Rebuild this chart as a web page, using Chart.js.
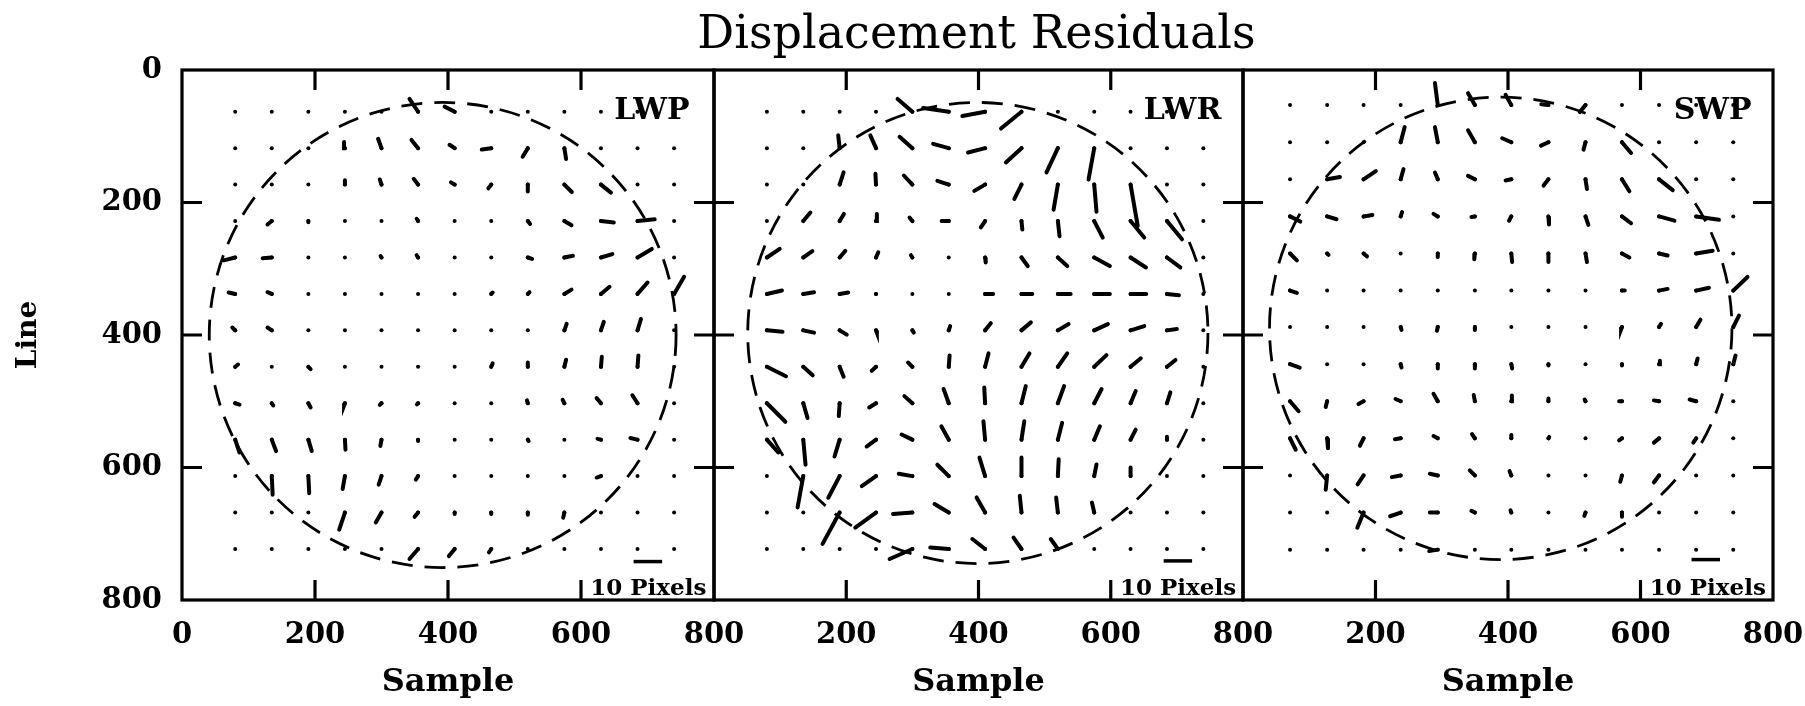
<!DOCTYPE html>
<html lang="en">
<head>
<meta charset="UTF-8" />
<title>Displacement Residuals</title>
<script src="https://cdn.jsdelivr.net/npm/chart.js"></script>
<style>
  body { margin: 0; background: #fff; }
  #wrap { position: relative; width: 1805px; height: 706px; overflow: hidden; background: #fff; }
  canvas { position: absolute; top: 0; }
</style>
</head>
<body>
<div id="wrap">
  <canvas id="lwp" width="760" height="706" style="left:0px"></canvas>
  <canvas id="lwr" width="620" height="706" style="left:670px"></canvas>
  <canvas id="swp" width="605" height="706" style="left:1200px"></canvas>
</div>
<script>
// grid of measured points (Sample, Line) for the long and short wavelength cameras
const lwSamples = [80, 135, 190, 245, 300, 355, 410, 465, 520, 575, 630, 685, 740];
const lwLines = [63, 118, 173, 228, 283, 338, 393, 448, 503, 558, 613, 668, 723];
const swSamples = [71, 127, 182, 238, 294, 350, 405, 461, 517, 572, 628, 684, 740];
const swLines = [53, 109, 165, 221, 277, 333, 388, 444, 500, 556, 612, 668, 724];

// residual vectors [dSample, dLine] in pixels, one row per grid line
const lwpVectors = [
  [[0,0],[0,0],[0,0],[0,0],[0,0],[-3,-4.5],[-3.5,-1.8],[0,0],[0,0],[0,0],[0,0],[0,0],[0,0]],
  [[0,0],[0,0],[0,0],[-0.3,-2.2],[-1.2,-3.3],[-2.3,-2.9],[-1.8,-1.2],[-3.3,0.5],[-1.8,3],[0.6,3.8],[0,0],[0,0],[0,0]],
  [[0,0],[0,0],[0,0],[0,-1.5],[-0.6,-1.8],[-1.5,-2],[-1.3,-0.8],[-1,1.3],[0,2.4],[2.6,2.6],[3.5,2.8],[0,0],[0,0]],
  [[0,0],[-1.5,1.2],[0,0.4],[0,0],[0,0],[-0.5,-0.8],[0,0],[0,0],[0.8,1],[2.5,1.5],[4.5,0.5],[6,-0.6],[0,0]],
  [[-4,1],[-3.2,0.3],[0,0],[0,0],[-0.3,-0.5],[-0.5,-0.8],[0,0],[0,0],[1.5,0.5],[3,-0.6],[4,-1.2],[5,-3],[0,0]],
  [[-2.3,-0.5],[-1.5,-0.6],[0,0],[0,0],[0,0],[0,0],[0,0],[0.5,-0.5],[0.6,-0.6],[2.5,-1.5],[3,-2.5],[3.5,-4],[3.5,-6]],
  [[-1,-1],[-1.5,-1],[0,0],[0,0],[0,0],[0,0],[0,0],[0,0],[0,0],[0.8,-2.3],[1,-3],[1.2,-4],[0,0]],
  [[1,-0.8],[0,0],[0.8,0.8],[0,0],[0,0],[0,0],[0,0],[0.5,-1.2],[0,-1.5],[0.6,-2.5],[0.3,-3.5],[0.3,-4],[0,0]],
  [[1.5,0.5],[0.5,0.8],[0.8,1.5],[-0.3,0.8],[-0.6,0.6],[-0.4,0.4],[0,0],[0,0],[-0.3,-1],[-0.6,-1.2],[-1.5,-1.8],[-1.8,-2.8],[0,0]],
  [[1.5,4.5],[1.5,4],[1.2,4],[0.2,3.5],[-0.4,2.2],[0,0.5],[0,0],[0,0],[0.3,0.5],[0,0],[-1.2,-0.3],[-2.5,-0.6],[0,0]],
  [[0,0],[0.3,6.5],[0.3,6],[-0.8,4.5],[-1,3],[-0.8,1.2],[0,0],[0,0],[0,0],[0,0],[-1.5,0.5],[0,0],[0,0]],
  [[0,0],[0,0],[0,0],[-2,6],[-2,3.5],[-1.2,1.5],[0,0.5],[0,0.5],[0,0.8],[-0.4,1.8],[0,0],[0,0],[0,0]],
  [[0,0],[0,0],[0,0],[0,0],[0,0],[-3,3.5],[-2,2.5],[-0.8,1.2],[0,0],[0,0],[0,0],[0,0],[0,0]]
];

const lwrVectors = [
  [[0,0],[0,0],[0,0],[0,0],[-5.2,-4.5],[-9,-1.3],[-8,1.5],[-7.2,5.9],[0,0],[0,0],[0,0],[0,0],[0,0]],
  [[0,0],[0,0],[-0.5,-4.5],[-2,-4.5],[-4.5,-4],[-5.5,-1.5],[-6,1.5],[-5.5,5],[-4,8.5],[-2,11],[0,0],[0,0],[0,0]],
  [[0,0],[0,0],[1.4,-4.3],[-0.2,-3.8],[-3,-3.2],[-4,-1.3],[-3.8,2.2],[-2.5,5],[-1.5,8.8],[0.8,9.5],[2.5,14.5],[0,0],[0,0]],
  [[0,0],[2.5,-3],[1.5,-2.5],[0.3,-2.5],[-1,-1.2],[-2.5,0],[-1.5,2.2],[0.3,3],[0.6,5.3],[3,5.8],[4.8,5.8],[5.3,6.4],[0,0]],
  [[4.5,-3],[3.2,-2.2],[2,-2.3],[0.8,-1.8],[-0.5,-0.8],[0,0],[0.2,1.8],[2.2,3],[3.3,3],[5.5,3],[5.4,3.5],[4.7,3.5],[0,0]],
  [[5.3,-1.2],[3.8,-0.6],[3,-0.5],[0.3,0],[0,0],[0,0],[2.8,0],[3.8,0],[4.5,0],[5.5,0],[5.5,0],[4.2,0.5],[0,0]],
  [[5.5,0.5],[3.8,0.8],[2.5,1.5],[0.3,0.8],[0.5,0.8],[0.5,-1.5],[2,-2.5],[3.3,-2.8],[3.8,-2.2],[4.8,-2.2],[4.8,-1.5],[3.5,-0.5],[0,0]],
  [[6.7,3.3],[3.3,3],[1.4,3.5],[-1.5,1.4],[-1.5,-1.5],[0.3,-4],[1.2,-4.7],[2.8,-4.7],[3.3,-4.7],[4.3,-4.1],[3.6,-3],[3,-2.4],[0,0]],
  [[6.5,6.5],[1.5,5.2],[-0.3,4.5],[-2.4,1.5],[-2.8,-2.5],[-1.8,-5],[-0.3,-5.5],[1.5,-6],[2.2,-6],[2.6,-5],[1.8,-4.3],[1.2,-3.8],[0,0]],
  [[4,4.5],[0.8,8.8],[-1.8,5.9],[-3.3,2.4],[-3.8,-1.8],[-2.6,-4.7],[-0.6,-6.5],[1,-6.5],[1.5,-5.9],[2,-4.7],[1.8,-3.5],[0,-1],[0,0]],
  [[0,0],[-2,11],[-4,7.6],[-5,3.5],[-4.8,-0.8],[-4,-4],[-2,-6.5],[0,-6.5],[0.3,-5.9],[0.8,-4.1],[0,-3],[0,0],[0,0]],
  [[0,0],[0,0],[-6,11],[-7.3,5.3],[-6.8,0.5],[-5,-3],[-3,-5.3],[-0.6,-5.9],[-0.6,-5.3],[-0.8,-3.5],[0,0],[0,0],[0,0]],
  [[0,0],[0,0],[0,0],[0,0],[-8,3.5],[-6.5,-0.5],[-4.5,-3.5],[-2.8,-4],[-2.5,-3.5],[0,0],[0,0],[0,0],[0,0]]
];

const swpVectors = [
  [[0,0],[0,0],[0,0],[0,0],[-1,-7.8],[-2.4,-4.2],[-2,-3.6],[-2.5,-0.3],[-2,2.4],[0,0],[0,0],[0,0],[0,0]],
  [[0,0],[0,0],[0,0],[1.4,-5.3],[-1,-5.3],[-2.4,-4.2],[-3.2,-1.4],[-2.6,1.2],[-0.7,2.6],[3.2,3.8],[0,0],[0,0],[0,0]],
  [[0,0],[4.5,-0.8],[4.3,-2.9],[1,-3.6],[-1,-2.4],[-2.4,-1.2],[-2,0.4],[-1.7,2.2],[0.5,3.4],[2.6,4.2],[4.8,3.8],[0,0],[0,0]],
  [[3.6,1.8],[3.3,1],[3.1,-0.5],[0.5,-1.5],[-1.5,-0.9],[-1.2,0.2],[-0.8,1.5],[0.2,2.8],[1,3],[3.2,2.4],[5.4,1.5],[8,1.2],[0,0]],
  [[2.4,2.4],[0.5,0.5],[1.2,1],[0,0],[0,1.2],[-0.2,2],[0.3,3],[0,3],[0.5,3],[2.6,1.4],[3,0.7],[5.8,-1],[0,0]],
  [[2.4,0.8],[0,0],[0,0],[0,0],[0,0],[0,0],[0,0],[0,0],[0,0],[1,0],[3,-0.6],[4.5,-1],[5,-4.8]],
  [[0,0],[0,0],[0,0],[0.3,1],[-0.3,1.3],[0,1],[0,0],[0,0],[0,0],[-0.3,0.8],[0.7,-1.1],[1.5,-2.6],[2,-4]],
  [[3.4,1.2],[0,0],[0,0],[0.3,1.2],[0,1.5],[0,1.5],[0.3,1.5],[0,0.5],[0,0],[0,0.5],[0.3,-1.2],[0.5,-2],[0.8,-3]],
  [[3,3.5],[-0.5,2],[-1.8,1],[-1.8,-0.8],[-1.5,-2.6],[-0.4,-2.2],[0.2,-2],[0,-1],[-0.3,-0.6],[-1,0],[-1.8,-0.3],[-2.3,-0.6],[0,0]],
  [[2,4],[0.3,3.5],[-1.3,2.6],[-2,0.3],[-1.5,-0.8],[-1,-1.5],[0,-1.2],[0.3,-0.5],[0,0],[-1,0.7],[-1.8,1.5],[-1,1.5],[0,0]],
  [[0,0],[-0.5,5],[-2.1,3.1],[-3.1,0.6],[-2.8,-0.6],[-1.8,-1.8],[-0.6,-1.5],[0,0],[0,0],[-0.6,2.2],[-1.8,2.4],[0,0],[0,0]],
  [[0,0],[0,0],[-2.2,5.3],[-3.7,1.3],[-2.8,0],[-1.2,-0.6],[-0.3,-0.8],[0,0],[-0.4,1.2],[0,1.5],[0,0],[0,0],[0,0]],
  [[0,0],[0,0],[0,0],[0,0],[-3,0.5],[0,0],[0,0],[0,0],[0,0],[0,0],[0,0],[0,0],[0,0]]
];

// camera field of view: [centre sample, centre line, radius]
const lwpCircle = [392, 400, 351];
const lwrCircle = [399, 397, 348];
const swpCircle = [389, 390, 349];

// 10 pixel reference bar: [start sample, line]
const lwpBar = [679, 742];
const lwrBar = [680, 741];
const swpBar = [677, 739];

const axisTicks = [0, 200, 400, 600, 800];
const PIX = 4.3; // plot units per pixel of residual
const SERIF = "'DejaVu Serif', serif";

function vectorData(samples, lines, vecs) {
  const pts = [];
  vecs.forEach((row, j) => {
    row.forEach(([dx, dy], i) => {
      if (dx === 0 && dy === 0) return;
      pts.push({x: samples[i], y: lines[j]});
      pts.push({x: samples[i] + dx * PIX, y: lines[j] + dy * PIX});
      pts.push({x: samples[i], y: null});
    });
  });
  return pts;
}

function gridData(samples, lines) {
  const pts = [];
  lines.forEach(ln => samples.forEach(s => pts.push({x: s, y: ln})));
  return pts;
}

const framePlugin = {
  id: 'frame',
  afterDatasetsDraw(chart, args, opts) {
    const {ctx, chartArea: a, scales: {x, y}} = chart;
    ctx.save();
    ctx.strokeStyle = '#000';

    // dashed field-of-view circle
    const c = opts.circle;
    const cx = x.getPixelForValue(c[0]), cy = y.getPixelForValue(c[1]);
    const rx = Math.abs(x.getPixelForValue(c[0] + c[2]) - cx);
    const ry = Math.abs(y.getPixelForValue(c[1] + c[2]) - cy);
    ctx.lineWidth = 2.8;
    ctx.setLineDash([21, 12]);
    ctx.beginPath();
    ctx.ellipse(cx, cy, rx, ry, 0, 0, Math.PI * 2);
    ctx.stroke();
    ctx.setLineDash([]);

    // frame and inward ticks
    ctx.lineWidth = 3.2;
    ctx.strokeRect(a.left, a.top, a.right - a.left, a.bottom - a.top);
    ctx.beginPath();
    axisTicks.slice(1, 4).forEach(v => {
      const px = x.getPixelForValue(v), py = y.getPixelForValue(v);
      ctx.moveTo(px, a.top); ctx.lineTo(px, a.top + 20);
      ctx.moveTo(px, a.bottom); ctx.lineTo(px, a.bottom - 20);
      ctx.moveTo(a.left, py); ctx.lineTo(a.left + 20, py);
      ctx.moveTo(a.right, py); ctx.lineTo(a.right - 20, py);
    });
    ctx.stroke();

    // labels
    ctx.fillStyle = '#000';
    ctx.textAlign = 'left';
    ctx.textBaseline = 'alphabetic';
    ctx.font = 'bold 30px ' + SERIF;
    ctx.fillText(opts.name, x.getPixelForValue(650), y.getPixelForValue(74));
    ctx.font = 'bold 23px ' + SERIF;
    ctx.fillText('10 Pixels', x.getPixelForValue(614), y.getPixelForValue(793));

    // figure title, centred over the middle panel
    if (opts.title) {
      ctx.font = '46px ' + SERIF;
      ctx.textAlign = 'center';
      ctx.textBaseline = 'middle';
      ctx.fillText(opts.title, (a.left + a.right) / 2 - 2, 36);
    }
    ctx.restore();
  }
};

function makePanel(id, p) {
  return new Chart(document.getElementById(id), {
    type: 'scatter',
    data: {
      datasets: [
        {
          data: gridData(p.samples, p.lines),
          pointRadius: 2,
          pointBorderWidth: 0,
          pointBackgroundColor: '#000'
        },
        {
          data: vectorData(p.samples, p.lines, p.vectors),
          showLine: true,
          spanGaps: false,
          borderColor: '#000',
          borderWidth: 4,
          borderCapStyle: 'round',
          pointRadius: 0
        },
        {
          data: [{x: p.bar[0], y: p.bar[1]}, {x: p.bar[0] + 10 * PIX, y: p.bar[1]}],
          showLine: true,
          borderColor: '#000',
          borderWidth: 3.5,
          pointRadius: 0
        }
      ]
    },
    options: {
      responsive: false,
      animation: false,
      events: [],
      layout: {padding: p.padding},
      plugins: {
        legend: {display: false},
        tooltip: {enabled: false},
        frame: {circle: p.circle, name: p.name, title: p.title}
      },
      scales: {
        x: {
          type: 'linear', min: 0, max: 800,
          grid: {display: false},
          border: {display: false},
          afterBuildTicks: s => { s.ticks = axisTicks.map(v => ({value: v})); },
          ticks: {
            autoSkip: false, maxRotation: 0, padding: 10, color: '#000',
            font: {family: SERIF, size: 29, weight: 'bold'},
            callback: v => (p.hideZero && v === 0) ? '' : v
          },
          title: {
            display: true, text: 'Sample', color: '#000',
            font: {family: SERIF, size: 32, weight: 'bold'},
            padding: {top: 0, bottom: 4}
          },
          afterFit: s => { s.height = 106; s.paddingLeft = 0; s.paddingRight = 0; }
        },
        y: {
          type: 'linear', min: 0, max: 800, reverse: true,
          display: p.showY,
          grid: {display: false},
          border: {display: false},
          afterBuildTicks: s => { s.ticks = axisTicks.map(v => ({value: v})); },
          ticks: {
            padding: 12, color: '#000',
            font: {family: SERIF, size: 29, weight: 'bold'}
          },
          title: {
            display: true, text: 'Line', color: '#000',
            font: {family: SERIF, size: 28, weight: 'bold'},
            padding: {top: 12, bottom: 0}
          },
          afterFit: s => {
            if (p.showY) { s.width = 182; s.paddingTop = 0; s.paddingBottom = 0; }
          }
        }
      }
    },
    plugins: [framePlugin]
  });
}

makePanel('lwp', {
  samples: lwSamples, lines: lwLines, vectors: lwpVectors,
  circle: lwpCircle, bar: lwpBar, name: 'LWP',
  showY: true, hideZero: false,
  padding: {top: 70, right: 46, bottom: 0, left: 0}
});

makePanel('lwr', {
  samples: lwSamples, lines: lwLines, vectors: lwrVectors,
  circle: lwrCircle, bar: lwrBar, name: 'LWR',
  showY: false, hideZero: true,
  padding: {top: 70, right: 47, bottom: 0, left: 44},
  title: 'Displacement Residuals'
});

makePanel('swp', {
  samples: swSamples, lines: swLines, vectors: swpVectors,
  circle: swpCircle, bar: swpBar, name: 'SWP',
  showY: false, hideZero: true,
  padding: {top: 70, right: 32, bottom: 0, left: 43}
});
</script>
</body>
</html>
